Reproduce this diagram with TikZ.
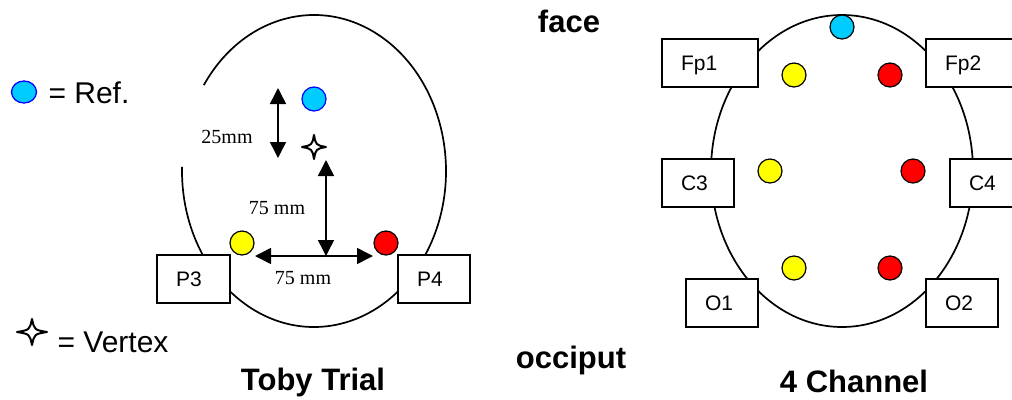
\documentclass[tikz,border=0pt]{standalone}
\usepackage{fontspec}
\setmainfont{Liberation Sans}
\newfontfamily\dimfont{Liberation Serif}
\usetikzlibrary{arrows.meta,shapes.geometric}

\definecolor{refcyan}{RGB}{0,204,255}
\definecolor{refblue}{RGB}{0,0,255}
\definecolor{elyellow}{RGB}{255,255,0}
\definecolor{elred}{RGB}{255,0,0}

\tikzset{
  headline/.style={line width=1.7pt},
  electrode/.style={draw, line width=1.5pt, fill=white, minimum height=48pt,
    inner xsep=19pt, inner ysep=0pt, align=left, text height=15pt, text depth=0pt,
    font=\fontsize{21}{25}\selectfont},
  dot/.style={circle, draw, line width=1.2pt, minimum size=24pt, inner sep=0pt},
  dimarrow/.style={{Triangle[length=16pt,width=16pt]}-{Triangle[length=16pt,width=16pt]}, line width=1.5pt},
  dimlabel/.style={anchor=base, font=\dimfont\fontsize{20}{24}\selectfont},
  title/.style={anchor=base, font=\bfseries\fontsize{31}{36}\selectfont},
  legendtext/.style={anchor=base west, font=\fontsize{30}{34}\selectfont},
  vertexstar/.pic={
    \draw[fill=white, line width=2pt, line join=round]
      (1,0) .. controls (0.16,0.16) .. (0,1) .. controls (-0.16,0.16) .. (-1,0)
      .. controls (-0.16,-0.16) .. (0,-1) .. controls (0.16,-0.16) .. cycle;
  }
}

\begin{document}
\begin{tikzpicture}[x=1pt,y=-1pt]
\useasboundingbox (0,0) rectangle (1012,399);
\clip (0,0) rectangle (1012,399);

% ---------- legend ----------
\node[ellipse, draw=refblue, fill=refcyan, line width=1.3pt, minimum width=25pt,
      minimum height=22pt, inner sep=0pt] (refkey) at (24,92) {};
\node[legendtext] (reftext) at (45,103) {= Ref.};
\pic[xscale=15, yscale=13] at (32,332) {vertexstar};
\coordinate (vertexkey) at (32,332);
\node[legendtext] (vertextext) at (54,352) {= Vertex};

% ---------- Toby Trial head ----------
\coordinate (hcL) at (314,171);
\draw[headline] (hcL) ++(213.4:132 and 156)
  arc[start angle=213.4, end angle=541.5, x radius=132, y radius=156];

\node[electrode, text width=35pt] (P3) at (193.5,279) {P3};
\node[electrode, text width=34pt] (P4) at (434,279) {P4};

\node[dot, draw=refblue, fill=refcyan] (refL) at (314,99) {};
\node[dot, fill=elyellow] (yL) at (242,243) {};
\node[dot, fill=elred] (rL) at (386,243) {};

\pic[xscale=12, yscale=12] at (314,147) {vertexstar};
\coordinate (vertex) at (314,147);

% dimension arrows
\coordinate (d25top) at (278,88);
\coordinate (d25bot) at (278,158);
\draw[dimarrow] (d25top) -- (d25bot);
\node[dimlabel] (lab25) at (227,143) {25mm};

\coordinate (h75l) at (255,256);
\coordinate (h75r) at (373,256);
\draw[dimarrow] (h75l) -- (h75r);
\node[dimlabel] (lab75h) at (303,284) {75 mm};

\coordinate (v75top) at (326,160);
\draw[dimarrow] (v75top) -- (v75top |- h75l);
\node[dimlabel] (lab75v) at (277,214) {75 mm};

\node[title] (toby) at (313,390) {Toby Trial};

% ---------- 4 Channel head ----------
\coordinate (hcR) at (842,171);
\draw[headline] (hcR) ellipse[x radius=131, y radius=156];

\node[electrode, text width=58pt] (Fp1) at (710,63) {Fp1};
\node[electrode, text width=54pt] (Fp2) at (972,63) {Fp2};
\node[electrode, text width=34pt] (C3) at (698,183) {C3};
\node[electrode, text width=32pt] (C4) at (985,183) {C4};
\node[electrode, text width=34pt] (O1) at (722,303) {O1};
\node[electrode, text width=34pt] (O2) at (962,303) {O2};

\node[dot, fill=refcyan] (refR) at (842,27) {};
\node[dot, fill=elyellow] (yR1) at (794,75) {};
\node[dot, fill=elred] (rR1) at (890,75) {};
\node[dot, fill=elyellow] (yR2) at (770,171) {};
\node[dot, fill=elred] (rR2) at (913,171) {};
\node[dot, fill=elyellow] (yR3) at (794,268) {};
\node[dot, fill=elred] (rR3) at (890,268) {};

\node[title] (chan) at (854,392) {4 Channel};

% ---------- orientation ----------
\node[title] (face) at (569,32) {face};
\node[title] (occiput) at (571,368) {occiput};
\end{tikzpicture}
\end{document}
